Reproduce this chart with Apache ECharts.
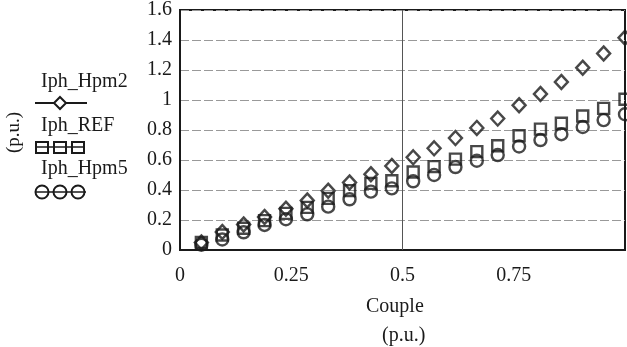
<!DOCTYPE html>
<html>
<head>
<meta charset="utf-8">
<script src="https://cdn.jsdelivr.net/npm/echarts@6/dist/echarts.min.js"></script>
<style>html,body{margin:0;padding:0;background:#fff}#c{width:627px;height:347px}</style>
</head>
<body>
<div id="c"></div>
<script>
const couple = [0.048, 0.095, 0.143, 0.19, 0.238, 0.286, 0.333, 0.381, 0.429, 0.476, 0.524, 0.571, 0.619, 0.667, 0.714, 0.762, 0.81, 0.857, 0.905, 0.952, 1.0];
const iphHpm2 = [0.05, 0.12, 0.17, 0.22, 0.275, 0.33, 0.395, 0.45, 0.505, 0.56, 0.618, 0.678, 0.746, 0.814, 0.876, 0.965, 1.04, 1.12, 1.215, 1.31, 1.415];
const iphRef = [0.05, 0.1, 0.145, 0.196, 0.244, 0.284, 0.344, 0.396, 0.444, 0.462, 0.52, 0.556, 0.606, 0.656, 0.695, 0.762, 0.806, 0.845, 0.893, 0.944, 1.005];
const iphHpm5 = [0.035, 0.07, 0.118, 0.167, 0.205, 0.238, 0.289, 0.338, 0.389, 0.411, 0.458, 0.5, 0.553, 0.595, 0.633, 0.69, 0.733, 0.772, 0.82, 0.866, 0.905];
const seriesNames = ['Iph_Hpm2', 'Iph_REF', 'Iph_Hpm5'];
const xTicks = [0, 0.25, 0.5, 0.75, 1];
const yTicks = [0, 0.2, 0.4, 0.6, 0.8, 1, 1.2, 1.4, 1.6];

const ink = '#1a1a1a';
const font = '"Liberation Serif", "DejaVu Serif", serif';
const pair = (xs, ys) => xs.map((x, i) => [x, ys[i]]);
const mk = (name, data, symbol, size) => ({
  name, type: 'scatter', data, symbol, symbolSize: size,
  itemStyle: { color: 'rgba(255,255,255,0)', borderColor: ink, borderWidth: 2.4 },
  emphasis: { disabled: true }, z: 3
});

const chart = echarts.init(document.getElementById('c'), null, { renderer: 'canvas' });
const s1 = mk(seriesNames[0], pair(couple, iphHpm2), 'diamond', [13, 14]);
s1.markLine = {
  silent: true, symbol: 'none', label: { show: false },
  lineStyle: { color: '#555', width: 1, type: 'solid' },
  data: [{ xAxis: xTicks[2] }]
};
chart.setOption({
  animation: false,
  backgroundColor: '#fff',
  grid: { left: 180, right: 2, top: 10, bottom: 97, show: true, borderColor: ink, borderWidth: 2, containLabel: false },
  xAxis: {
    type: 'value', min: xTicks[0], max: xTicks[xTicks.length - 1], interval: 0.25,
    axisLine: { show: true, lineStyle: { color: ink, width: 2 } },
    axisTick: { show: false },
    splitLine: { show: false },
    axisLabel: { showMaxLabel: false, margin: 16, color: ink, fontFamily: font, fontSize: 20,
      formatter: v => String(v) }
  },
  yAxis: {
    type: 'value', min: yTicks[0], max: yTicks[yTicks.length - 1], interval: 0.2,
    axisLine: { show: true, lineStyle: { color: ink, width: 2 } },
    axisTick: { show: false },
    splitLine: { show: true, lineStyle: { color: '#999', width: 1, type: [9, 3] } },
    axisLabel: { margin: 8, color: ink, fontFamily: font, fontSize: 20, padding: [7, 0, 0, 0],
      formatter: v => String(Math.round(v * 10) / 10) }
  },
  series: [
    s1,
    mk(seriesNames[1], pair(couple, iphRef), 'rect', 11),
    mk(seriesNames[2], pair(couple, iphHpm5), 'circle', 12)
  ],
  graphic: [
    { type: 'text', left: 366, top: 297, style: { text: 'Couple', font: '20px ' + font, fill: ink } },
    { type: 'text', left: 382, top: 326, style: { text: '(p.u.)', font: '20px ' + font, fill: ink } },
    { type: 'text', x: 5, y: 153, rotation: Math.PI / 2, style: { text: '(p.u.)', font: '19px ' + font, fill: ink, align: 'left', verticalAlign: 'top' } },
    { type: 'text', left: 41, top: 72, style: { text: seriesNames[0], font: '20px ' + font, fill: ink } },
    { type: 'line', shape: { x1: 35, y1: 103, x2: 87, y2: 103 }, style: { stroke: ink, lineWidth: 2 } },
    { type: 'polygon', shape: { points: [[60, 97], [66, 103], [60, 109], [54, 103]] }, style: { fill: '#fff', stroke: ink, lineWidth: 2 } },
    { type: 'text', left: 41, top: 116, style: { text: seriesNames[1], font: '20px ' + font, fill: ink } },
    { type: 'line', shape: { x1: 35, y1: 147, x2: 85, y2: 147 }, style: { stroke: ink, lineWidth: 1.5 } },
    { type: 'rect', shape: { x: 36, y: 142, width: 12, height: 11 }, style: { fill: 'none', stroke: ink, lineWidth: 2 } },
    { type: 'rect', shape: { x: 54, y: 142, width: 12, height: 11 }, style: { fill: 'none', stroke: ink, lineWidth: 2 } },
    { type: 'rect', shape: { x: 72, y: 142, width: 12, height: 11 }, style: { fill: 'none', stroke: ink, lineWidth: 2 } },
    { type: 'text', left: 41, top: 159, style: { text: seriesNames[2], font: '20px ' + font, fill: ink } },
    { type: 'line', shape: { x1: 35, y1: 192, x2: 86, y2: 192 }, style: { stroke: ink, lineWidth: 1.5 } },
    { type: 'circle', shape: { cx: 42, cy: 192, r: 6.5 }, style: { fill: 'none', stroke: ink, lineWidth: 2 } },
    { type: 'circle', shape: { cx: 60, cy: 192, r: 6.5 }, style: { fill: 'none', stroke: ink, lineWidth: 2 } },
    { type: 'circle', shape: { cx: 78, cy: 192, r: 6.5 }, style: { fill: 'none', stroke: ink, lineWidth: 2 } }
  ]
});
</script>
</body>
</html>
